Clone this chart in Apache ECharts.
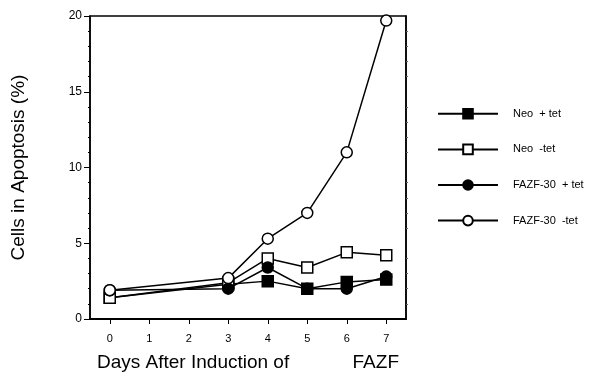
<!DOCTYPE html>
<html>
<head>
<meta charset="utf-8">
<script src="https://cdn.jsdelivr.net/npm/echarts@6/dist/echarts.min.js"></script>
<style>
  html, body { margin: 0; padding: 0; background: #fff; }
  #chart { width: 599px; height: 375px; }
</style>
</head>
<body>
<div id="chart"></div>
<script>
// days measured
var days = [0, 3, 4, 5, 6, 7];
var neoPlus = [1.4, 2.3, 2.5, 2.0, 2.45, 2.6];
var neoMinus = [1.4, 2.4, 4.0, 3.4, 4.4, 4.2];
var fazfPlus = [1.9, 2.0, 3.4, 2.0, 2.0, 2.8];
var fazfMinus = [1.9, 2.7, 5.3, 7.0, 11.0, 19.7];
var xTicks = [0, 1, 2, 3, 4, 5, 6, 7];
var yTicks = [0, 5, 10, 15, 20];

function pairs(vals) {
    return days.map(function (d, i) { return [d, vals[i]]; });
}

function mkSeries(name, vals, symbol, filled) {
    return {
        name: name,
        type: 'line',
        data: pairs(vals),
        symbol: symbol,
        symbolSize: 11,
        lineStyle: { color: '#000', width: 1.5 },
        itemStyle: { color: filled ? '#000' : '#fff', borderColor: '#000', borderWidth: 1.5 },
        emphasis: { disabled: true },
        animation: false
    };
}

var chart = echarts.init(document.getElementById('chart'));
chart.setOption({
    backgroundColor: '#fff',
    textStyle: { fontFamily: 'Liberation Sans, Arial, sans-serif', color: '#000' },
    grid: { left: 90, right: 193, top: 16, bottom: 56, outerBoundsMode: 'none',
        show: true, borderColor: '#000', borderWidth: 1.5 },
    legend: {
        orient: 'vertical',
        left: 432,
        top: 103,
        itemWidth: 60,
        itemHeight: 12,
        itemGap: 24,
        textStyle: { fontSize: 11, color: '#000', padding: [0, 0, 0, 10] },
        data: ['Neo  + tet', 'Neo  -tet', 'FAZF-30  + tet', 'FAZF-30  -tet']
    },
    xAxis: {
        type: 'value',
        min: -0.5,
        max: 7.5,
        interval: 1,
        name: 'Days After Induction of            FAZF',
        nameLocation: 'middle',
        nameGap: 34,
        nameTextStyle: { fontSize: 19, color: '#000' },
        axisLine: { onZero: false, lineStyle: { color: '#000', width: 2 } },
        axisTick: { show: true, length: 5, lineStyle: { color: '#000' },
            customValues: xTicks },
        axisLabel: { fontSize: 11, color: '#000', margin: 14, customValues: xTicks },
        splitLine: { show: false }
    },
    yAxis: [{
        type: 'value',
        min: 0,
        max: 20,
        interval: 5,
        name: 'Cells in Apoptosis (%)',
        nameLocation: 'middle',
        nameGap: 62,
        nameTextStyle: { fontSize: 19, color: '#000' },
        axisLine: { show: true, onZero: false, lineStyle: { color: '#000', width: 1.5 } },
        axisTick: { show: true, length: 6, lineStyle: { color: '#000' }, customValues: yTicks },
        minorTick: { show: true, splitNumber: 5, length: 2, lineStyle: { color: '#000' } },
        axisLabel: { fontSize: 12, color: '#000', margin: 8, customValues: yTicks },
        splitLine: { show: false }
    }, {
        type: 'value',
        position: 'right',
        min: 0,
        max: 20,
        interval: 5,
        axisLine: { show: true, onZero: false, lineStyle: { color: '#000', width: 1.5 } },
        axisTick: { show: false },
        minorTick: { show: true, splitNumber: 5, length: 2, lineStyle: { color: '#666' } },
        axisLabel: { show: false },
        splitLine: { show: false }
    }],
    series: [
        mkSeries('Neo  + tet', neoPlus, 'rect', true),
        mkSeries('Neo  -tet', neoMinus, 'rect', false),
        mkSeries('FAZF-30  + tet', fazfPlus, 'circle', true),
        mkSeries('FAZF-30  -tet', fazfMinus, 'circle', false)
    ]
});
</script>
</body>
</html>
